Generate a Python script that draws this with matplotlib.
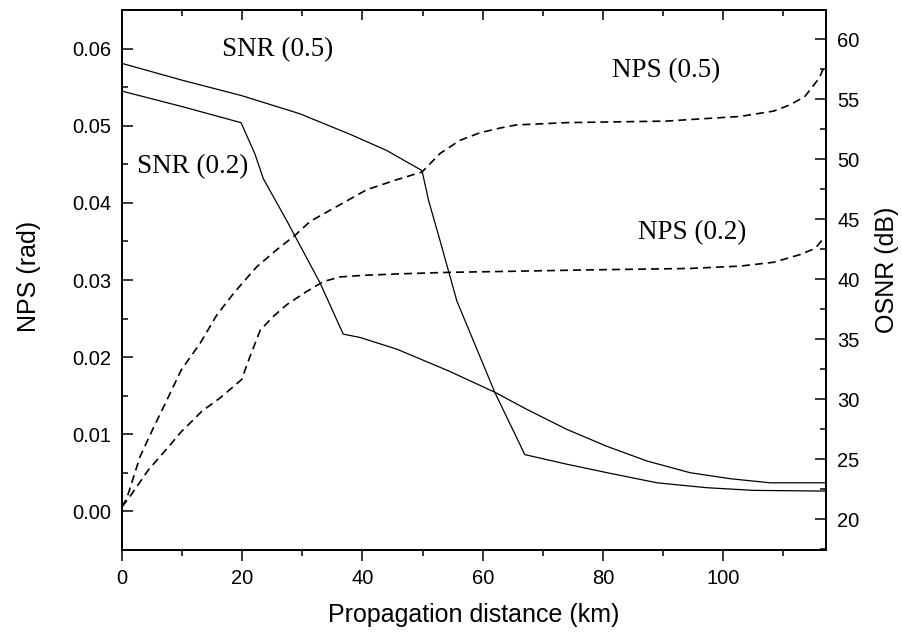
import matplotlib
matplotlib.use('Agg')
import matplotlib.pyplot as plt
from matplotlib.ticker import MultipleLocator, FormatStrFormatter

# NPS curves (left axis, rad)
nps05_km = [0, 0.8, 3.0, 5.2, 7.2, 9.9, 13.0, 15.8, 18.8, 22.4, 25.7, 28.8, 31.3, 35.2,
            40.7, 45.7, 49.9, 52.9, 56.2, 59.6, 62.9, 65.6, 74, 82.3, 90.6, 94.5, 102.8,
            108.4, 111.1, 113.6, 115.9, 116.8]
nps05 = [0.0006, 0.0017, 0.0071, 0.0108, 0.0140, 0.0184, 0.0218, 0.0255, 0.0285, 0.0317,
         0.0339, 0.0358, 0.0376, 0.0393, 0.0417, 0.0430, 0.0440, 0.0464, 0.0481, 0.0491,
         0.0497, 0.0501, 0.0504, 0.0505, 0.0506, 0.0508, 0.0512, 0.0519, 0.0527, 0.0538,
         0.0561, 0.0576]

nps02_km = [0, 1.3, 4.4, 6.3, 8.0, 9.7, 11.9, 13.3, 16.3, 19.9, 21.3, 23.0, 25.2, 27.4,
            30.7, 33.5, 36.3, 40.0, 46.3, 54.6, 62.9, 76.8, 94.5, 102.8, 108.4, 112.8,
            115.3, 116.8]
nps02 = [0.0006, 0.0019, 0.0054, 0.0071, 0.0086, 0.0102, 0.0119, 0.0130, 0.0147, 0.0171,
         0.0201, 0.0235, 0.0253, 0.0268, 0.0285, 0.0298, 0.0304, 0.0306, 0.0308, 0.0310,
         0.0311, 0.0313, 0.0315, 0.0318, 0.0323, 0.0333, 0.0341, 0.0355]

# OSNR curves (right axis, dB)
snr05_km = [0, 10, 20, 29.6, 37.9, 44, 49.9, 51, 52.9, 55.7, 62, 67, 74, 80.6, 89, 97.3,
            105, 117]
snr05 = [58.0, 56.6, 55.3, 53.8, 52.1, 50.75, 49.07, 46.57, 43.23, 38.2, 30.6, 25.4,
         24.6, 23.9, 23.05, 22.64, 22.42, 22.36]

snr02_km = [0, 10, 19.8, 22.1, 23.5, 27.4, 32.9, 36.8, 39.6, 45.7, 54.3, 62, 67.3, 74,
            80.6, 87.3, 94.5, 101.2, 107.8, 117]
snr02 = [55.69, 54.4, 53.06, 50.47, 48.4, 44.9, 39.75, 35.44, 35.16, 34.19, 32.38, 30.6,
         29.18, 27.5, 26.1, 24.87, 23.89, 23.39, 23.05, 23.05]

sans = 'Liberation Sans'
serif = 'Liberation Serif'
dash = (0, (4.8, 3))

fig = plt.figure(figsize=(9.03, 6.34), dpi=100)
ax1 = fig.add_axes([122/903, 84/634, 704/903, 540/634])
ax2 = ax1.twinx()

ax1.plot(nps05_km, nps05, color='black', lw=1.2, linestyle=dash)
ax1.plot(nps02_km, nps02, color='black', lw=1.2, linestyle=dash)
ax2.plot(snr05_km, snr05, color='black', lw=0.9)
ax2.plot(snr02_km, snr02, color='black', lw=0.9)

ax1.set_xlim(0, 117.1)
ax1.set_ylim(-0.005, 0.065)
ax2.set_ylim(17.45, 62.45)

ax1.xaxis.set_major_locator(MultipleLocator(20))
ax1.xaxis.set_minor_locator(MultipleLocator(10))
ax1.yaxis.set_major_locator(MultipleLocator(0.01))
ax1.yaxis.set_minor_locator(MultipleLocator(0.005))
ax1.yaxis.set_major_formatter(FormatStrFormatter('%.2f'))
ax2.yaxis.set_major_locator(MultipleLocator(5))
ax2.yaxis.set_minor_locator(MultipleLocator(2.5))

ax1.tick_params(axis='x', which='both', direction='out', top=False, labelsize=14.5,
                pad=6)
ax1.tick_params(axis='y', which='both', direction='in', labelsize=14.5, pad=8)
ax2.tick_params(axis='y', which='both', direction='in', labelsize=14.5, pad=8)
for ax in (ax1, ax2):
    ax.tick_params(which='major', length=8, width=1.1)
    ax.tick_params(which='minor', length=4.5, width=1.1)
    for lab in ax.get_xticklabels() + ax.get_yticklabels():
        lab.set_fontfamily(sans)
    for s in ax.spines.values():
        s.set_linewidth(1.3)

# top ticks point inward, bottom ones outward
top = ax1.secondary_xaxis('top')
top.xaxis.set_major_locator(MultipleLocator(20))
top.xaxis.set_minor_locator(MultipleLocator(10))
top.tick_params(which='both', direction='in', labeltop=False)
top.tick_params(which='major', length=7, width=1.1)
top.tick_params(which='minor', length=4, width=1.1)
top.spines['top'].set_linewidth(1.3)

fig.text(474/903, 1 - 615/634, 'Propagation distance (km)', fontsize=18,
         family=sans, ha='center', va='center')
fig.text(29/903, 1 - 276/634, 'NPS (rad)', fontsize=18, family=sans,
         rotation=90, ha='center', va='center')
fig.text(887/903, 1 - 270/634, 'OSNR (dB)', fontsize=18, family=sans,
         rotation=90, ha='center', va='center')

ax1.text(25.9, 0.0598, 'SNR (0.5)', fontsize=19.5, family=serif, ha='center', va='center')
ax1.text(11.7, 0.0447, 'SNR (0.2)', fontsize=19.5, family=serif, ha='center', va='center')
ax1.text(90.5, 0.0572, 'NPS (0.5)', fontsize=19.5, family=serif, ha='center', va='center')
ax1.text(94.8, 0.0361, 'NPS (0.2)', fontsize=19.5, family=serif, ha='center', va='center')

fig.savefig('out.png', dpi=100)
